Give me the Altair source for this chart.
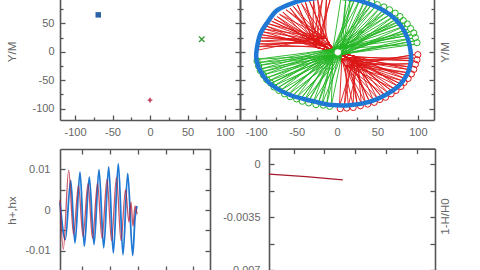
import altair as alt
import pandas as pd

FONT = "Liberation Sans"
GREY = "#666666"
FRAME = "#555555"
C_BLUE = "#1f78d4"
C_RED = "#dd1515"
C_GREEN = "#22b422"

# ---------------- top-left: current positions of the three bodies ----------------
POS_BLUE = [-69, 65]
POS_GREEN = [69, 22]
POS_RED = [0, -85]

# ---------------- top-right: orbit tracks ----------------
BLUE_X = [-99.5, -99.5, -95, -85, -75, -58, -42, -15, 15, 44, 65, 79, 87, 91, 91, 87, 77, 60, 40, 15, -10, -26, -58, -83, -95]
BLUE_Y = [-15, 2, 31, 54, 72, 84, 91, 96, 94, 82, 66, 46, 25, 2, -20, -39, -59, -76, -88, -94, -93, -88, -76, -56, -33]

# red: upper-left turning points, lower-right turning points, loops, hubs
RED_UL_X = [-98, -98, -97, -96, -95, -93, -91, -89, -87, -84, -81, -78, -74, -71, -67, -63, -58, -54, -49, -44, -39, -34, -29, -24, -18, -13, -8]
RED_UL_Y = [3, 9, 14, 19, 25, 30, 35, 40, 45, 49, 54, 58, 62, 66, 70, 74, 77, 80, 83, 85, 87, 89, 91, 92, 93, 94, 94]
RED_LR_X = [96, 95, 95, 94, 92, 91, 89, 86, 84, 81, 78, 75, 71, 67, 63, 59, 55, 50, 45, 40, 35, 30, 25, 20, 14, 9, 3]
RED_LR_Y = [-5, -11, -16, -21, -27, -32, -37, -42, -47, -51, -56, -60, -65, -68, -72, -76, -79, -82, -85, -87, -89, -91, -93, -94, -95, -96, -96]
RED_LOOP_X = [100, 99, 97, 95, 92, 88, 83, 79, 73, 67, 60, 53, 46, 38, 29, 20, 12, 4]
RED_LOOP_Y = [-5, -14, -22, -31, -39, -47, -54, -61, -68, -74, -80, -84, -89, -92, -95, -98, -99, -100]
RED_HUB_A_X = [-30, -18, -26, -14, -22, -10]
RED_HUB_A_Y = [22, 10, 8, 24, 16, 12]
RED_HUB_B_X = [26, 14, 22, 10, 18, 6]
RED_HUB_B_Y = [-22, -10, -8, -24, -16, -12]

# green: upper-right and lower-left turning points, loops, hubs
GREEN_UR_X = [5, 11, 17, 22, 28, 34, 39, 44, 49, 54, 59, 63, 68, 72, 76, 79, 82, 85, 88, 90, 92, 94, 95, 96]
GREEN_UR_Y = [95, 94, 94, 93, 91, 89, 87, 85, 82, 79, 76, 72, 68, 64, 60, 55, 51, 46, 40, 35, 30, 24, 19, 13]
GREEN_LL_X = [-7, -13, -19, -24, -30, -36, -41, -46, -51, -56, -61, -65, -70, -74, -78, -81, -84, -87, -90, -92, -94, -96, -97, -98]
GREEN_LL_Y = [-95, -94, -94, -93, -91, -89, -87, -85, -82, -79, -76, -72, -68, -64, -60, -55, -51, -46, -40, -35, -30, -24, -19, -13]
GREEN_LOOP_X = [9, 17, 26, 35, 43, 50, 58, 65, 72, 78, 82, 87, 91, 95, 97, 99,
                -9, -17, -26, -35, -43, -50, -58, -65, -72, -78, -82, -87, -91, -95, -97, -99]
GREEN_LOOP_Y = [96, 94, 93, 90, 87, 83, 79, 74, 68, 62, 55, 49, 41, 33, 25, 16,
                -96, -94, -93, -90, -87, -83, -79, -74, -68, -62, -55, -49, -41, -33, -25, -16]
GREEN_HUB_X = [-5, 4, 6, -4]
GREEN_HUB_Y = [5, 6, -5, -6]
HOLE_X = [1]
HOLE_Y = [-1]

# ---------------- bottom-left: waveforms ----------------
HX_T = [-4000, -3046, -2074, -1300, -400, 374, 1274, 2120, 3020, 3866, 4766, 5594, 6494, 7340, 8186, 9086, 9500, 9860]
HX_V = [0.002, -0.0073, 0.0073, -0.0081, 0.0093, -0.0089, 0.0081, -0.0085, 0.0099, -0.0093, 0.0106, -0.0106, 0.0114, -0.011, 0.009, -0.0112, -0.002, 0.001]
HP_T = [-4000, -3406, -2434, -1570, -670, 140, 1040, 1850, 2750, 3560, 4460, 5270, 6170, 6980, 7790, 8420, 8780, 9140, 9500, 9860]
HP_V = [0.0025, -0.0097, 0.0098, -0.006, 0.006, -0.0065, 0.0065, -0.007, 0.0065, -0.007, 0.0075, -0.0075, 0.008, -0.0075, 0.005, -0.003, 0.002, -0.004, 0.001, -0.001]

# ---------------- bottom-right: energy error ----------------
EN_T = [-4000, 2000, 8000]
EN_V = [-0.00063, -0.0008, -0.00102]

# ---------------- tick values ----------------
POS_MAJOR = [-100, -50, 0, 50, 100]
POS_LEFT_LABELS = [-100, -50, 0, 50]
POS_MINOR = [-75, -25, 25, 75]
T_TICKS = [0, 5000, 10000, 15000, 20000]
H_TICKS = [-0.01, -0.005, 0, 0.005, 0.01]
H_LABELS = [0.01, 0, -0.01]
E_TICKS = [0, -0.00175, -0.0035, -0.00525, -0.007]
E_LABELS = [0, -0.0035, -0.007]


def axis(**kw):
    base = dict(grid=False, labelFont=FONT, labelFontSize=11, labelColor=GREY,
                tickColor=FRAME, tickWidth=1.3, domainColor=FRAME, domainWidth=1.6,
                titleFont=FONT, titleFontSize=11.5, titleColor=GREY, titleFontWeight="normal",
                labelFlush=False, labelOverlap=False)
    base.update(kw)
    return alt.Axis(**base)


def lab_axis(orient, offset, values, pad, title=None, tx=0, ty=0):
    kw = dict(orient=orient, offset=offset, values=values, ticks=False, tickSize=0,
              domain=False, labelPadding=pad, labelExpr="'' + datum.value")
    if title:
        kw.update(title=title, titleX=tx, titleY=ty, titleAngle=270,
                  titleAlign="center", titleBaseline="middle")
    else:
        kw["title"] = None
    return axis(**kw)


def tick_axis(orient, offset, values, size, domain, title=None, tx=0, ty=0):
    kw = dict(orient=orient, offset=offset, values=values, ticks=True, tickSize=size,
              domain=domain, labels=False)
    if title:
        kw.update(title=title, titleX=tx, titleY=ty, titleAngle=270,
                  titleAlign="center", titleBaseline="middle")
    else:
        kw["title"] = None
    return axis(**kw)


def guide(sx, sy, xdom, ydom, xaxis=None, yaxis=None):
    df = pd.DataFrame({"gx": [xdom[0]], "gy": [ydom[0]]})
    return alt.Chart(df).mark_point(opacity=0).encode(
        x=alt.X("gx:Q", scale=sx, axis=xaxis),
        y=alt.Y("gy:Q", scale=sy, axis=yaxis))


def enc(chart, sx, sy, **extra):
    return chart.encode(x=alt.X("x:Q", scale=sx, axis=None),
                        y=alt.Y("y:Q", scale=sy, axis=None), **extra)


H = 270
W = 480

# ================= TOP-LEFT =================
POS_DOM = [-120, 120]
sx_tl = alt.Scale(domain=POS_DOM, range=[60, 240], nice=False, zero=False)
sy_tl = alt.Scale(domain=POS_DOM, range=[120, -16.4], nice=False, zero=False)

def pt(p):
    return pd.DataFrame({"x": [p[0]], "y": [p[1]]})

tl = alt.layer(
    guide(sx_tl, sy_tl, POS_DOM, POS_DOM,
          lab_axis("bottom", 120 - H, POS_MAJOR, 6),
          lab_axis("left", -60, POS_LEFT_LABELS, 6, "Y/M", -48, 51.5)),
    guide(sx_tl, sy_tl, POS_DOM, POS_DOM,
          tick_axis("top", -120, POS_MAJOR, 5, True),
          tick_axis("right", 60 - W, POS_MAJOR, 5, True)),
    guide(sx_tl, sy_tl, POS_DOM, POS_DOM,
          tick_axis("top", -120, POS_MINOR, 3, False),
          tick_axis("right", 60 - W, POS_MINOR, 3, False)),
    guide(sx_tl, sy_tl, POS_DOM, POS_DOM, None,
          tick_axis("left", -240, POS_MAJOR, 5, True)),
    guide(sx_tl, sy_tl, POS_DOM, POS_DOM, None,
          tick_axis("left", -240, POS_MINOR, 3, False)),
    enc(alt.Chart(pt(POS_BLUE)).mark_point(shape="square", filled=True, size=30,
                                            color="#2a62a8", opacity=1), sx_tl, sy_tl),
    enc(alt.Chart(pt(POS_GREEN)).mark_point(shape="M-1,-1L1,1M-1,1L1,-1", filled=False, size=30,
                                             strokeWidth=1.4, color="#3a9a3a", opacity=1), sx_tl, sy_tl),
    enc(alt.Chart(pt(POS_RED)).mark_point(shape="M-1,0L1,0M0,-1L0,1", filled=False, size=22,
                                           strokeWidth=1.4, color="#b8284a", opacity=1), sx_tl, sy_tl),
).resolve_axis(x="independent", y="independent")

# ================= TOP-RIGHT =================
sx_tr = alt.Scale(domain=POS_DOM, range=[240, 434], nice=False, zero=False)
sy_tr = alt.Scale(domain=POS_DOM, range=[120, -16.4], nice=False, zero=False)

red_rows = []
m = len(RED_HUB_A_X)
for i in range(len(RED_UL_X)):
    a, b = i % m, (i + 3) % m
    seq = [(RED_UL_X[i], RED_UL_Y[i]), (RED_HUB_A_X[a], RED_HUB_A_Y[a]),
           (RED_HUB_B_X[a], RED_HUB_B_Y[a]), (RED_LR_X[i], RED_LR_Y[i]),
           (RED_HUB_B_X[b], RED_HUB_B_Y[b]), (RED_HUB_A_X[b], RED_HUB_A_Y[b])]
    for x, y in seq:
        red_rows.append({"x": x, "y": y, "k": len(red_rows)})
red_df = pd.DataFrame(red_rows)

green_rows = []
g = len(GREEN_HUB_X)
for i in range(len(GREEN_UR_X)):
    a, b = i % g, (i + 2) % g
    seq = [(GREEN_UR_X[i], GREEN_UR_Y[i]), (GREEN_HUB_X[a], GREEN_HUB_Y[a]),
           (GREEN_LL_X[i], GREEN_LL_Y[i]), (GREEN_HUB_X[b], GREEN_HUB_Y[b])]
    for x, y in seq:
        green_rows.append({"x": x, "y": y, "k": len(green_rows)})
green_df = pd.DataFrame(green_rows)

blue_df = pd.DataFrame({"x": BLUE_X, "y": BLUE_Y, "k": list(range(len(BLUE_X)))})
red_loops = pd.DataFrame({"x": RED_LOOP_X, "y": RED_LOOP_Y})
green_loops = pd.DataFrame({"x": GREEN_LOOP_X, "y": GREEN_LOOP_Y})
hole_df = pd.DataFrame({"x": HOLE_X, "y": HOLE_Y})

tr = alt.layer(
    guide(sx_tr, sy_tr, POS_DOM, POS_DOM,
          lab_axis("bottom", 120 - H, POS_MAJOR, 6),
          tick_axis("left", -434, POS_MAJOR, 5, True, "Y/M", 11, 52)),
    guide(sx_tr, sy_tr, POS_DOM, POS_DOM,
          tick_axis("top", -120, POS_MAJOR, 5, True),
          tick_axis("right", 240 - W, POS_MAJOR, 5, True)),
    guide(sx_tr, sy_tr, POS_DOM, POS_DOM,
          tick_axis("top", -120, POS_MINOR, 3, False),
          tick_axis("right", 240 - W, POS_MINOR, 3, False)),
    guide(sx_tr, sy_tr, POS_DOM, POS_DOM, None,
          tick_axis("left", -434, POS_MINOR, 3, False)),
    enc(alt.Chart(red_df).mark_line(color=C_RED, strokeWidth=0.9), sx_tr, sy_tr,
        order=alt.Order("k:Q")),
    enc(alt.Chart(green_df).mark_line(color=C_GREEN, strokeWidth=0.9), sx_tr, sy_tr,
        order=alt.Order("k:Q")),
    enc(alt.Chart(red_loops).mark_point(shape="circle", filled=False, size=38,
                                         strokeWidth=1.0, color=C_RED, opacity=1), sx_tr, sy_tr),
    enc(alt.Chart(green_loops).mark_point(shape="circle", filled=False, size=38,
                                           strokeWidth=1.0, color=C_GREEN, opacity=1), sx_tr, sy_tr),
    enc(alt.Chart(hole_df).mark_point(shape="circle", filled=True, size=40,
                                       color="white", opacity=1), sx_tr, sy_tr),
    enc(alt.Chart(blue_df).mark_line(color=C_BLUE, strokeWidth=4.5, interpolate="cardinal-closed"),
        sx_tr, sy_tr, order=alt.Order("k:Q")),
).resolve_axis(x="independent", y="independent")

# ================= BOTTOM-LEFT =================
T_DOM = [-4000, 23000]
H_DOM = [-0.015, 0.015]
sx_bl = alt.Scale(domain=T_DOM, range=[60, 210], nice=False, zero=False)
sy_bl = alt.Scale(domain=H_DOM, range=[271, 149], nice=False, zero=False)
hx_df = pd.DataFrame({"x": HX_T, "y": HX_V})
hp_df = pd.DataFrame({"x": HP_T, "y": HP_V})

bl = alt.layer(
    guide(sx_bl, sy_bl, T_DOM, H_DOM,
          tick_axis("bottom", 149 - H, T_TICKS, 5, True),
          lab_axis("left", -60, H_LABELS, 10, "h+,hx", -48, 210)),
    guide(sx_bl, sy_bl, T_DOM, H_DOM,
          tick_axis("top", -271, T_TICKS, 5, True),
          tick_axis("right", 60 - W, H_TICKS, 5, True)),
    guide(sx_bl, sy_bl, T_DOM, H_DOM, None,
          tick_axis("left", -210, H_TICKS, 5, True)),
    enc(alt.Chart(hx_df).mark_line(color=C_BLUE, strokeWidth=1.8, interpolate="monotone"), sx_bl, sy_bl),
    enc(alt.Chart(hp_df).mark_line(color="#b01028", strokeWidth=1.3, opacity=0.7,
                                    interpolate="monotone"), sx_bl, sy_bl),
).resolve_axis(x="independent", y="independent")

# ================= BOTTOM-RIGHT =================
E_DOM = [-0.0085, 0.00105]
sx_br = alt.Scale(domain=T_DOM, range=[269, 435], nice=False, zero=False)
sy_br = alt.Scale(domain=E_DOM, range=[293.2, 148.6], nice=False, zero=False)
en_df = pd.DataFrame({"x": EN_T, "y": EN_V})

br = alt.layer(
    guide(sx_br, sy_br, T_DOM, E_DOM,
          tick_axis("bottom", 148.6 - H, T_TICKS, 5, True),
          lab_axis("left", -269, E_LABELS, 9)),
    guide(sx_br, sy_br, T_DOM, E_DOM, None,
          tick_axis("right", 269 - W, E_TICKS, 5, True)),
    guide(sx_br, sy_br, T_DOM, E_DOM, None,
          tick_axis("left", -435, E_TICKS, 5, True, "1-H/H0", 10, 216)),
    enc(alt.Chart(en_df).mark_line(color="#a8182c", strokeWidth=1.3), sx_br, sy_br),
).resolve_axis(x="independent", y="independent")

chart = alt.layer(tl, tr, bl, br).resolve_scale(
    x="independent", y="independent"
).properties(
    width=W, height=H, padding=0,
    autosize=alt.AutoSizeParams(type="none"),
    background="white",
).configure_view(stroke=None)

chart.save("out.html", embed_options={"renderer": "svg", "actions": False})
